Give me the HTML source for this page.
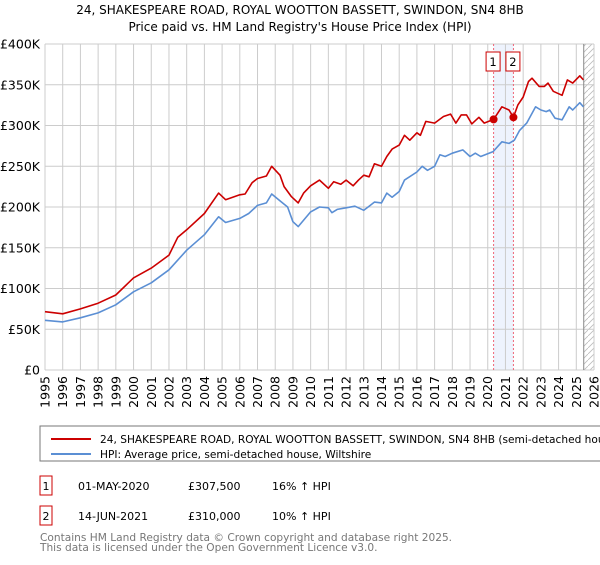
<!DOCTYPE html>
<html><head><meta charset="utf-8"><style>
body{margin:0;background:#fff;font-family:"Liberation Sans","DejaVu Sans",sans-serif;}
svg text{font-family:"DejaVu Sans","Liberation Sans",sans-serif;}
</style></head><body>
<svg id="chart" width="600" height="560" viewBox="0 0 600 560">
<text x="300" y="14" text-anchor="middle" font-size="12" fill="#000">24, SHAKESPEARE ROAD, ROYAL WOOTTON BASSETT, SWINDON, SN4 8HB</text>
<text x="300" y="31" text-anchor="middle" font-size="12" fill="#000">Price paid vs. HM Land Registry's House Price Index (HPI)</text>
<g id="grid"></g><g id="marks"></g><g id="axes"></g>
<rect x="40" y="426" width="570" height="35" fill="#fff" stroke="#777"/>
<line x1="51" y1="439" x2="91" y2="439" stroke="#cc0000" stroke-width="2"/>
<text x="100" y="443" font-size="10.6">24, SHAKESPEARE ROAD, ROYAL WOOTTON BASSETT, SWINDON, SN4 8HB (semi-detached house)</text>
<line x1="51" y1="457" x2="91" y2="457" stroke="#5b8fd4" stroke-width="2" transform="translate(0,-3)"/>
<text x="100" y="458" font-size="10.6">HPI: Average price, semi-detached house, Wiltshire</text>
<rect x="40" y="476" width="12" height="19" fill="#fff" stroke="#cc0000"/>
<text x="46" y="490" text-anchor="middle" font-size="11">1</text>
<text x="78" y="490" font-size="11">01-MAY-2020</text>
<text x="188" y="490" font-size="11">£307,500</text>
<text x="272" y="490" font-size="11">16% ↑ HPI</text>
<rect x="40" y="506" width="12" height="19" fill="#fff" stroke="#cc0000"/>
<text x="46" y="520" text-anchor="middle" font-size="11">2</text>
<text x="78" y="520" font-size="11">14-JUN-2021</text>
<text x="188" y="520" font-size="11">£310,000</text>
<text x="272" y="520" font-size="11">10% ↑ HPI</text>
<text x="40" y="541" font-size="10.6" fill="#777">Contains HM Land Registry data © Crown copyright and database right 2025.</text>
<text x="40" y="551" font-size="10.6" fill="#777">This data is licensed under the Open Government Licence v3.0.</text>
</svg>
<script>
const redYears=[1995,1996,1997,1998,1999,2000,2001,2002,2002.5,2003,2004,2004.8,2005.2,2006,2006.3,2006.7,2007,2007.5,2007.8,2008.27,2008.5,2008.9,2009.3,2009.6,2010,2010.5,2011,2011.3,2011.7,2012,2012.4,2012.7,2013,2013.3,2013.6,2014,2014.3,2014.6,2015,2015.3,2015.6,2016,2016.2,2016.5,2017,2017.5,2017.9,2018.2,2018.5,2018.8,2019.1,2019.5,2019.8,2020.33,2020.8,2021.2,2021.45,2021.7,2022,2022.3,2022.5,2022.9,2023.2,2023.4,2023.7,2024.2,2024.5,2024.8,2025.2,2025.4];
const redValues=[71.5,69,75,82,92,113,125,141,163,172,192,217,209,215,216,230,235,238,250,239,225,213,205,217,226,233,223,231,228,233,226,233,239,237,253,250,262,271,276,288,282,291,288,305,303,311,314,303,313,313,302,310,303,307.5,323,319,310,325,335,354,358,348,348,352,342,337,356,352,361,356];
const hpiYears=[1995,1996,1997,1998,1999,2000,2001,2002,2003,2004,2004.8,2005.2,2006,2006.5,2007,2007.5,2007.8,2008.3,2008.7,2009.0,2009.3,2010,2010.5,2011,2011.2,2011.5,2012,2012.5,2013,2013.3,2013.6,2014,2014.3,2014.6,2015,2015.3,2016,2016.3,2016.6,2017,2017.3,2017.6,2018,2018.6,2019,2019.3,2019.6,2020.3,2020.8,2021.2,2021.5,2021.8,2022.2,2022.7,2023,2023.3,2023.5,2023.8,2024.2,2024.6,2024.8,2025.2,2025.4];
const hpiValues=[61,59,64,70,80,96,107,123,147,166,188,181,186,192,202,205,216,207,200,182,176,194,200,199,193,197,199,201,196,201,206,205,217,212,219,233,243,250,245,250,264,262,266,270,262,266,262,268,280,278,282,294,303,323,319,317,319,309,307,323,319,328,323];
const saleYears=[2020.33,2021.45];
const saleValues=[307.5,310];
const saleLabels=["1","2"];
const yTicks=[0,50,100,150,200,250,300,350,400];
const yTickLabels=["£0","£50K","£100K","£150K","£200K","£250K","£300K","£350K","£400K"];
const xTicks=[1995,1996,1997,1998,1999,2000,2001,2002,2003,2004,2005,2006,2007,2008,2009,2010,2011,2012,2013,2014,2015,2016,2017,2018,2019,2020,2021,2022,2023,2024,2025,2026];
const dataEnd=2025.42;

const X0=45,X1=594,Y0=370,Y1=44;
const xs=y=>X0+(y-1995)/(2026-1995)*(X1-X0);
const ys=v=>Y0-v/400*(Y0-Y1);
const NS="http://www.w3.org/2000/svg";
function mk(parent,tag,attrs){const e=document.createElementNS(NS,tag);for(const k in attrs)e.setAttribute(k,attrs[k]);parent.appendChild(e);return e;}
const grid=document.getElementById('grid'),marks=document.getElementById('marks'),axes=document.getElementById('axes');

const band=mk(grid,'rect',{x:xs(saleYears[0]),y:Y1,width:xs(saleYears[1])-xs(saleYears[0]),height:Y0-Y1,fill:'#eef3fd'});


const defs=mk(grid,'defs',{});
const pat=mk(defs,'pattern',{id:'hatch',width:6,height:6,patternUnits:'userSpaceOnUse'});
mk(pat,'path',{d:'M0,6 L6,0',stroke:'#bbb','stroke-width':0.8});
const hatch=mk(grid,'rect',{x:xs(dataEnd),y:Y1,width:X1-xs(dataEnd),height:Y0-Y1,fill:'url(#hatch)'});



yTicks.forEach((t,i)=>{
  const l=mk(grid,'line',{x1:X0,x2:X1,y1:ys(t),y2:ys(t),stroke:'#ccc','stroke-width':1});
  
  
  const tx=mk(axes,'text',{x:X0-5,y:ys(t)+4.5,'text-anchor':'end','font-size':12.5,fill:'#000'});
  tx.textContent=yTickLabels[i];
  
  
});
xTicks.forEach(t=>{
  const l=mk(grid,'line',{x1:xs(t),x2:xs(t),y1:Y1,y2:Y0,stroke:'#ccc','stroke-width':1});
  
  
  const tx=mk(axes,'text',{x:0,y:0,'text-anchor':'end','font-size':12.5,fill:'#000',transform:`translate(${xs(t)+4.5},${Y0+6}) rotate(-90)`});
  tx.textContent=t;
  
  
});
const el=mk(grid,'line',{x1:xs(dataEnd),x2:xs(dataEnd),y1:Y1,y2:Y0,stroke:'#888','stroke-width':1});


saleYears.forEach((s,i)=>{
  const l=mk(grid,'line',{x1:xs(s),x2:xs(s),y1:Y1,y2:Y0,stroke:'#ee6677','stroke-width':1,'stroke-dasharray':'2,2'});
  
  
  const r=mk(axes,'rect',{x:xs(s)-7.5,y:52,width:14,height:19,fill:'#fff',stroke:'#cc0000'});
  
  
  const t=mk(axes,'text',{x:xs(s)-0.5,y:66,'text-anchor':'middle','font-size':11.5});
  t.textContent=saleLabels[i];
  
  
});
function line(yrs,vals,color,name){
  const d=yrs.map((y,i)=>(i?'L':'M')+xs(y).toFixed(1)+','+ys(vals[i]).toFixed(1)).join(' ');
  const p=mk(marks,'path',{d:d,fill:'none',stroke:color,'stroke-width':1.6,'stroke-linejoin':'round'});
  
  
}
line(hpiYears,hpiValues,'#5b8fd4','hpi-line');
line(redYears,redValues,'#cc0000','property-line');
saleYears.forEach((s,i)=>{
  const c=mk(marks,'circle',{cx:xs(s),cy:ys(saleValues[i]),r:4,fill:'#cc0000'});
  
  
});
</script>
</body></html>
